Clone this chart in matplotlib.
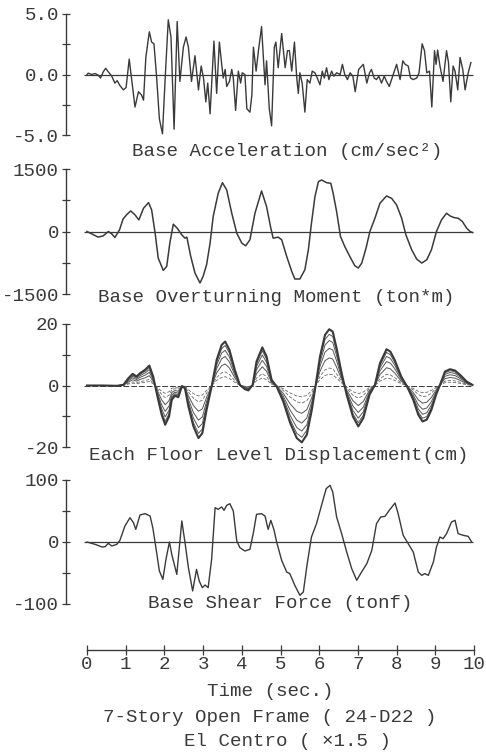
import numpy as np
import matplotlib
matplotlib.use('Agg')
import matplotlib.pyplot as plt
from matplotlib.ticker import FixedLocator

plt.rcParams['font.family'] = ['Liberation Mono', 'DejaVu Sans Mono']

# ---- data (time in sec) ----
acc_t = [0.00, 0.03, 0.12, 0.21, 0.29, 0.35, 0.42, 0.48, 0.55, 0.64,
         0.72, 0.78, 0.85, 0.94, 1.01, 1.09, 1.15, 1.24, 1.33, 1.41,
         1.46, 1.52, 1.61, 1.67, 1.73, 1.80, 1.87, 1.95, 2.02, 2.10,
         2.17, 2.25, 2.33, 2.40, 2.49, 2.56, 2.62, 2.70, 2.79, 2.88,
         2.95, 3.01, 3.07, 3.12, 3.18, 3.24, 3.28, 3.35, 3.42, 3.48,
         3.52, 3.57, 3.61, 3.68, 3.74, 3.78, 3.84, 3.91, 3.97, 4.01,
         4.08, 4.13, 4.21, 4.26, 4.30, 4.37, 4.43, 4.51, 4.60, 4.64,
         4.71, 4.77, 4.84, 4.88, 4.94, 5.03, 5.12, 5.18, 5.23, 5.29,
         5.36, 5.42, 5.46, 5.50, 5.56, 5.63, 5.69, 5.76, 5.82, 5.89,
         5.95, 6.02, 6.08, 6.13, 6.19, 6.25, 6.32, 6.38, 6.45, 6.54,
         6.60, 6.66, 6.73, 6.80, 6.87, 6.93, 7.02, 7.10, 7.14, 7.23,
         7.30, 7.35, 7.42, 7.48, 7.54, 7.61, 7.68, 7.74, 7.81, 7.87,
         7.93, 8.00, 8.09, 8.16, 8.22, 8.30, 8.36, 8.43, 8.52, 8.58,
         8.66, 8.72, 8.78, 8.85, 8.91, 8.98, 9.02, 9.06, 9.12, 9.20,
         9.29, 9.34, 9.40, 9.46, 9.51, 9.58, 9.64, 9.71, 9.77, 9.85,
         9.92]
acc_v = [0.0, 0.11, 0.0, 0.08, -0.06, -0.29, 0.22, 0.51, 0.22, -0.14,
         -0.71, -0.51, -0.91, -1.27, -1.08, 1.27, -0.29, -2.69, -1.42, -1.70,
         -2.12, 1.41, 3.53, 2.68, 2.54, -0.29, -3.67, -4.9, -0.29, 4.52,
         3.10, -4.52, 4.38, -0.57, 2.26, 3.10, 2.26, -0.57, 1.55, -1.27,
         0.70, -0.29, -2.26, -0.71, -3.25, 0.28, 2.76, -1.56, 2.68, 0.84,
         -0.29, 0.42, -0.99, -0.57, 0.42, -0.29, -2.97, 0.28, -0.71, 0.14,
         0.0, -2.83, -3.11, -1.70, 2.26, 0.28, 1.97, 3.95, -0.85, 1.13,
         -2.83, -4.24, 2.26, 2.68, 0.56, 3.39, 0.56, 1.97, 1.97, 0.28,
         2.68, -0.29, -1.56, 0.14, -0.71, -3.11, -0.42, -0.71, 0.28, 0.14,
         -0.29, -0.85, 0.28, -0.29, 0.56, -0.42, 0.28, -0.14, 0.14, 0.0,
         0.84, 0.0, -0.42, 0.14, -0.14, -1.42, 0.42, 0.70, 0.84, -0.71,
         0.14, 0.42, -0.29, -0.42, -0.14, -0.71, -0.14, -0.57, -0.99, -0.42,
         0.14, 0.84, -0.42, 1.13, 0.84, 0.70, -0.29, -0.42, -0.29, 0.14,
         2.54, 1.97, 0.14, 0.28, -2.69, 1.97, 0.84, 2.02, 0.70, -0.57,
         1.97, 0.99, -2.26, 0.70, 0.28, -1.27, 1.41, 0.42, -1.27, 0.14,
         0.99]

mom_t = [0.00, 0.12, 0.29, 0.42, 0.55, 0.64, 0.72, 0.84, 0.93, 1.02,
         1.13, 1.24, 1.34, 1.46, 1.59, 1.67, 1.76, 1.84, 1.97, 2.06,
         2.14, 2.23, 2.33, 2.45, 2.53, 2.58, 2.68, 2.79, 2.92, 3.00,
         3.09, 3.18, 3.26, 3.39, 3.50, 3.61, 3.74, 3.87, 4.00, 4.10,
         4.21, 4.34, 4.51, 4.64, 4.75, 4.81, 4.94, 5.03, 5.16, 5.29,
         5.37, 5.50, 5.63, 5.72, 5.80, 5.89, 5.98, 6.06, 6.19, 6.30,
         6.36, 6.45, 6.55, 6.66, 6.79, 6.92, 7.01, 7.10, 7.21, 7.31,
         7.44, 7.57, 7.74, 7.87, 8.00, 8.13, 8.24, 8.39, 8.52, 8.65,
         8.78, 8.90, 9.03, 9.16, 9.29, 9.38, 9.48, 9.59, 9.70, 9.81,
         9.90, 9.96]
mom_v = [0, -56, -135, -104, 0, -56, -144, 40, 295, 399,
         494, 399, 279, 558, 694, 518, -40, -638, -933, -837,
         -279, 175, 80, -80, -160, -135, -598, -997, -1236, -1076,
         -797, -279, 359, 917, 1172, 997, 439, -40, -279, -343,
         -199, 439, 973, 598, 80, -160, -135, -199, -598, -957,
         -1140, -1140, -917, -439, 199, 837, 1196, 1236, 1172, 1156,
         917, 478, -120, -359, -598, -821, -877, -757, -399, 0,
         319, 678, 853, 797, 638, 319, -80, -439, -662, -757,
         -678, -439, 0, 279, 439, 375, 335, 319, 239, 80,
         0, -24]

# top floor displacement (cm)
disp_t = [0.00, 0.42, 0.77, 0.94, 1.07, 1.18, 1.28, 1.37, 1.50, 1.61,
          1.71, 1.82, 1.93, 2.02, 2.12, 2.19, 2.27, 2.36, 2.45, 2.53,
          2.62, 2.75, 2.88, 2.98, 3.09, 3.22, 3.35, 3.48, 3.57, 3.68,
          3.82, 3.95, 4.08, 4.17, 4.28, 4.38, 4.53, 4.64, 4.77, 4.90,
          5.07, 5.25, 5.42, 5.55, 5.68, 5.81, 5.91, 6.02, 6.15, 6.26,
          6.35, 6.45, 6.58, 6.71, 6.87, 7.01, 7.14, 7.30, 7.44, 7.57,
          7.74, 7.84, 7.95, 8.12, 8.27, 8.43, 8.56, 8.67, 8.78, 8.90,
          9.02, 9.12, 9.25, 9.38, 9.51, 9.64, 9.81, 9.96]
disp_v = [0, 0, -0.1, 0.2, 2.38, 3.79, 2.92, 4.0, 5.09, 6.49,
          2.92, -3.57, -9.52, -12.77, -10.06, -4.65, -3.35, -3.79, -0.32, -0.87,
          -6.82, -13.3, -17.1, -15.5, -7.9, -0.32, 8.33, 13.2, 14.3, 11.6,
          5.09, 0.2, -1.19, -1.6, 0.2, 7.79, 12.4, 9.42, 1.84, -0.32,
          -5.19, -12.2, -17.1, -18.5, -16.0, -7.9, 0.2, 9.42, 16.45, 18.3,
          17.5, 12.1, 4.0, -3.03, -10.06, -13.3, -10.6, -3.03, 0.2, 7.25,
          11.8, 11.0, 8.33, 2.92, -0.32, -4.65, -9.52, -11.7, -11.1, -7.9,
          -3.03, 0.2, 4.55, 5.3, 4.87, 3.46, 1.3, 0.2]
# amplitude of each floor relative to the top floor (1F ... 7F)
floor_ratio = [0.2, 0.31, 0.49, 0.66, 0.8, 0.91, 1.0]

shear_t = [0.00, 0.21, 0.39, 0.47, 0.55, 0.64, 0.77, 0.85, 0.98, 1.11,
           1.20, 1.26, 1.37, 1.50, 1.63, 1.70, 1.78, 1.87, 1.96, 2.04,
           2.13, 2.19, 2.32, 2.45, 2.53, 2.62, 2.73, 2.83, 2.90, 2.98,
           3.05, 3.13, 3.22, 3.31, 3.39, 3.48, 3.54, 3.61, 3.69, 3.78,
           3.87, 3.95, 4.08, 4.21, 4.30, 4.38, 4.51, 4.60, 4.68, 4.75,
           4.83, 4.90, 5.03, 5.16, 5.24, 5.37, 5.50, 5.59, 5.69, 5.80,
           5.93, 6.06, 6.18, 6.28, 6.35, 6.45, 6.58, 6.71, 6.84, 6.97,
           7.07, 7.23, 7.36, 7.48, 7.59, 7.70, 7.81, 7.96, 8.04, 8.17,
           8.30, 8.43, 8.56, 8.65, 8.73, 8.82, 8.95, 9.03, 9.12, 9.20,
           9.29, 9.42, 9.51, 9.59, 9.72, 9.85, 9.94]
shear_v = [0, -3.8, -8.1, -7.5, -2.1, -6.5, -3.8, 2.7, 25.8, 39.2,
           31.2, 20.4, 43.6, 45.7, 41.9, 23.1, -9.1, -46.8, -60.2, -28.0,
           0, -19.9, -52.2, 33.9, 0, -41.4, -79.0, -44.1, -62.9, -73.7,
           -69.4, -73.7, -28.0, 55.4, 52.7, 56.5, 51.1, 59.1, 61.8, 50.0,
           1.6, -9.1, -14.5, -11.8, 15.1, 44.6, 45.7, 41.9, 20.4, 34.9,
           20.0, 0, -29.6, -48.4, -51, -69.9, -86.0, -80.6, -35, 8.1,
           29.6, 59.1, 86.0, 91.4, 80.6, 40.3, 13.4, -16.1, -43, -61.8,
           -51, -35, -13.4, 29.6, 40.3, 41.4, 51.1, 62.9, 45.7, 10.8,
           -2.7, -16.1, -48.4, -53.8, -51, -53.8, -32.3, -8.1, 8.1, 5.4,
           13.4, 32.3, 35, 13.4, 10.8, 9.1, 0]

panel_titles = ['Base Acceleration (cm/sec\u00b2)',
                'Base Overturning Moment (ton*m)',
                'Each Floor Level Displacement(cm)',
                'Base Shear Force (tonf)']
panel_lims = [5.0, 1500, 20, 100]
panel_ticklabels = [['-5.0', '0.0', '5.0'],
                    ['-1500', '0', '1500'],
                    ['-20', '0', '20'],
                    ['-100', '0', '100']]
time_ticks = list(range(0, 11))

# ---- layout (pixels of the 486x754 picture) ----
W, H = 486, 754
ink = '#3a3a3a'
fs = 13.8

def fx(x):
    return x / W

def fy(y):
    return 1 - y / H

fig = plt.figure(figsize=(W / 100, H / 100), dpi=100)
fig.patch.set_facecolor('white')

x_left, x_right = 66, 474
t_left, t_right = -0.543, 10.0
panel_px = [(14, 135), (169, 294), (324, 447), (480, 604)]
title_pos = [(287, 151), (276, 298), (279, 455), (280, 603)]
# zero line of the displacement panel is printed dashed
zero_style = ['-', '-', (0, (6, 2)), '-']

axes = []
for i, (top, bot) in enumerate(panel_px):
    ax = fig.add_axes([fx(x_left), fy(bot), fx(x_right) - fx(x_left), (bot - top) / H])
    lim = panel_lims[i]
    ax.set_xlim(t_left, t_right)
    ax.set_ylim(-lim, lim)
    for s in ['top', 'right', 'bottom']:
        ax.spines[s].set_visible(False)
    ax.spines['left'].set_color(ink)
    ax.spines['left'].set_linewidth(1.0)
    ax.set_xticks([])
    ax.set_yticks([-lim, 0, lim])
    ax.set_yticklabels(panel_ticklabels[i])
    ax.yaxis.set_minor_locator(FixedLocator([-lim / 2, lim / 2]))
    ax.tick_params(axis='y', which='both', direction='inout', length=6, width=0.9,
                   color=ink, pad=2, labelsize=fs, labelcolor=ink)
    ax.patch.set_alpha(0)
    ax.hlines(0, -0.08, 9.97, color=ink, lw=0.9 if i != 2 else 0.7,
              linestyles=zero_style[i])
    fig.text(fx(title_pos[i][0]), fy(title_pos[i][1]), panel_titles[i],
             ha='center', va='center', fontsize=fs, color=ink)
    axes.append(ax)

axes[0].plot(acc_t, acc_v, color=ink, lw=1.0)
axes[1].plot(mom_t, mom_v, color=ink, lw=1.1)

# each floor displacement: lower floors thin (dashed near the base), roof thick
d = np.array(disp_v)
for k, r in enumerate(floor_ratio):
    if k < 2:
        axes[2].plot(disp_t, d * r, color='#6a6a6a', lw=0.6, ls=(0, (4, 2)))
    elif k < 6:
        axes[2].plot(disp_t, d * r, color='#555555', lw=0.7)
    else:
        axes[2].plot(disp_t, d * r, color=ink, lw=1.5)

axes[3].plot(shear_t, shear_v, color=ink, lw=1.0)

# time axis
axt = fig.add_axes([fx(x_left), fy(650), fx(x_right) - fx(x_left), 0.001])
axt.set_xlim(t_left, t_right)
axt.set_ylim(0, 1)
for s in ['top', 'right', 'left']:
    axt.spines[s].set_visible(False)
axt.spines['bottom'].set_bounds(0, 10)
axt.spines['bottom'].set_color(ink)
axt.spines['bottom'].set_linewidth(1.0)
axt.set_yticks([])
axt.set_xticks(time_ticks)
axt.set_xticklabels([str(v) for v in time_ticks])
axt.tick_params(axis='x', direction='inout', length=6.5, width=0.9, color=ink,
                pad=1, labelsize=fs, labelcolor=ink)
axt.patch.set_alpha(0)

fig.text(fx(270), fy(692), 'Time (sec.)', ha='center', va='center', fontsize=fs, color=ink)
fig.text(fx(270), fy(717), '7-Story Open Frame ( 24-D22 )', ha='center', va='center',
         fontsize=fs, color=ink)
fig.text(fx(288), fy(742), 'El Centro ( \u00d71.5 )', ha='center', va='center',
         fontsize=fs, color=ink)

fig.savefig('out.png', dpi=100, facecolor='white')
